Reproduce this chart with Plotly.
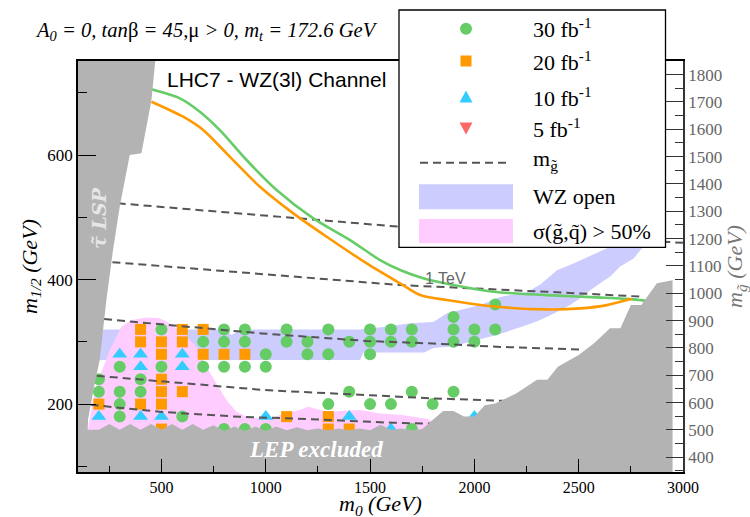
import plotly.graph_objects as go

# ---------------- data ----------------
# discovery reach markers (m0, m1/2) in GeV
green_m0 = [200, 200, 300, 300, 300, 300, 400, 400, 500, 500, 600, 700, 700,
            800, 800, 800, 800, 900, 900, 900, 900, 1000, 1000, 1000, 1100, 1100,
            1200, 1200, 1300, 1300, 1300, 1400, 1400, 1500, 1500, 1500, 1500,
            1600, 1600, 1600, 1700, 1700, 1700, 1700, 1800, 1900, 1900, 1900, 1900,
            2000, 2000, 2100, 2100]
green_m12 = [240, 220, 260, 220, 200, 180, 240, 220, 320, 260, 180, 300, 260,
             320, 300, 260, 160, 320, 300, 260, 160, 280, 260, 160, 320, 300,
             300, 280, 320, 280, 200, 300, 220, 320, 300, 280, 200,
             320, 300, 200, 320, 300, 220, 160, 200, 340, 320, 300, 220,
             320, 300, 360, 320]

orange_m0 = [200, 400, 400, 400, 500, 500, 500, 500, 500, 500, 600, 600, 600,
             700, 700, 800, 900, 1100, 1300, 1300, 1400]
orange_m12 = [200, 320, 300, 200, 300, 280, 240, 220, 200, 160, 320, 300, 220,
              320, 280, 280, 280, 180, 180, 160, 160]

blue_m0 = [200, 300, 400, 400, 400, 500, 600, 600, 1000, 1400, 1600, 2000]
blue_m12 = [180, 280, 280, 260, 180, 180, 280, 260, 180, 180, 160, 180]

red_m0 = []
red_m12 = []

# gluino-mass contours (dashed)
mg_a_m0 = [160, 492, 877, 1132, 1611, 1802]
mg_a_m12 = [199, 187.6, 179.6, 177, 170, 168.7]
mg_b_m0 = [190, 996, 1484, 1803, 2139]
mg_b_m12 = [245.5, 222.5, 214.5, 209.2, 205.3]
mg_c_m0 = [225, 980, 1484, 1803, 2124, 2507]
mg_c_m12 = [336.5, 313.5, 301.4, 297.3, 291.9, 287.7]
mg_d_m0 = [265, 1644, 2348, 2811]
mg_d_m12 = [428, 391.2, 380.4, 372.4]
mg_e_m0 = [290, 1644, 3000]
mg_e_m12 = [522.5, 484.8, 459]

# reach curves
curve_green_m0 = [452, 588, 684, 780, 908, 1052, 1228, 1404, 1548, 1644, 1755, 1899,
                  2091, 2348, 2588, 2763, 2827]
curve_green_m12 = [705.5, 691, 669.6, 640, 592, 543.9, 498.3, 463.5, 431.3, 415.3, 402,
                   391.2, 380.4, 375.1, 371.4, 368.2, 365.5]
curve_orange_m0 = [452, 604, 700, 812, 972, 1132, 1292, 1484, 1644, 1740, 1868, 2108,
                   2348, 2508, 2636, 2732, 2755]
curve_orange_m12 = [685.6, 661.5, 640.3, 602.7, 549, 506.3, 468.8, 426, 393.9, 375.1,
                    367.1, 356.3, 352.1, 353.7, 359, 367.1, 368.7]

# regions
wz_m0 = [200, 804, 836, 884, 1451, 1564, 1692, 1803, 1868, 1932, 2028, 2124, 2252,
         2316, 2396, 2475, 2603, 2667, 2732, 2850,
         2850, 2827, 2795, 2763, 2699, 2651, 2603, 2555, 2507, 2459, 2396, 2316,
         2252, 2187, 2108, 2012, 1899, 1803, 1760, 1468, 1452, 200]
wz_m12 = [320, 320, 311, 320, 320, 324, 330, 332, 346, 351, 359, 372, 380,
          392, 415, 426, 445, 455, 470, 520,
          490, 458, 447, 434, 421, 405, 394, 383, 370, 359, 348, 335,
          327, 320, 311, 303, 293, 290, 283, 283, 271, 271]

sig_m0 = [148, 148, 172, 204, 252, 308, 356, 428, 492, 540, 604, 668, 716, 764, 812,
          860, 908, 1004, 1068, 1164, 1204, 1292, 1452, 1548, 1644, 1772, 1812, 1860,
          1860]
sig_m12 = [91, 161, 206.4, 243.9, 286.7, 324.2, 335, 339.3, 337.7, 329.6, 313.6, 292,
           260, 233.3, 206.4, 187.6, 179.6, 176, 182.3, 190.4, 195.7, 187.6, 190.4, 185,
           183, 176.7, 171, 158, 91]

lsp_m0 = [90, 473, 452, 404, 348, 300, 268, 236, 204, 180, 148, 140, 90]
lsp_m12 = [760, 760, 688, 603, 600, 517, 448, 367, 271, 233, 175, 85, 85]

lep_m0 = [95, 200, 250, 300, 350, 400, 450, 500, 550, 600, 650, 700, 750, 800, 850,
          900, 950, 1000, 1050, 1100, 1150, 1200, 1250, 1300, 1350, 1400, 1450, 1500,
          1550, 1600, 1650, 1700, 1750, 1800, 1850, 1900, 1950, 2000, 2050, 2100, 2200,
          2300, 2350, 2400, 2500, 2575, 2650, 2700, 2750, 2800, 2875, 2950, 2950, 95]
lep_m12 = [159, 159, 168, 159, 168, 159, 168, 159, 168, 159, 168, 159, 166, 157, 164,
           157, 164, 157, 164, 158, 163, 158, 161, 158, 161, 158, 161, 158,
           167, 159, 161, 158, 160, 174, 189, 189, 180, 180, 198, 201, 217,
           239, 239, 260, 279, 298, 322, 322, 359, 359, 394, 399, 85, 85]

legend_labels = ["30 fb<sup>-1</sup>", "20 fb<sup>-1</sup>", "10 fb<sup>-1</sup>",
                 "5 fb<sup>-1</sup>", "m<sub>g\u0303</sub>", "WZ open",
                 "\u03c3(g\u0303,q\u0303) > 50%"]

# ---------------- style ----------------
W, H = 750, 517
ML, MR, MT, MB = 78, 67, 61, 45
PW, PH = W - ML - MR, H - MT - MB
SERIF = "Liberation Serif"
SANS = "Liberation Sans"
GREEN, ORANGE, CYAN, RED = "#66CC66", "#FF9900", "#33CCFF", "#FF6666"
GRAY = "#B3B3B3"
BAND_BLUE, BAND_PINK = "#CCCCFF", "#FFCCFF"


def px(x):
    return (x - ML) / PW


def py(y):
    return (H - MB - y) / PH


fig = go.Figure()


def region(xs, ys, color):
    fig.add_trace(go.Scatter(x=xs, y=ys, fill="toself", fillcolor=color, mode="lines",
                             line=dict(width=0), hoverinfo="skip", showlegend=False))


region(wz_m0, wz_m12, BAND_BLUE)
region(sig_m0, sig_m12, BAND_PINK)

for xs, ys, sym, col, sz in [(green_m0, green_m12, "circle", GREEN, 12),
                             (orange_m0, orange_m12, "square", ORANGE, 11),
                             (blue_m0, blue_m12, "triangle-up", CYAN, 13),
                             (red_m0, red_m12, "triangle-down", RED, 13)]:
    fig.add_trace(go.Scatter(x=xs, y=ys, mode="markers",
                             marker=dict(symbol=sym, color=col, size=sz, line=dict(width=0)),
                             showlegend=False))

for xs, ys in [(mg_a_m0, mg_a_m12), (mg_b_m0, mg_b_m12), (mg_c_m0, mg_c_m12),
               (mg_d_m0, mg_d_m12), (mg_e_m0, mg_e_m12)]:
    fig.add_trace(go.Scatter(x=xs, y=ys, mode="lines",
                             line=dict(color="#555555", width=2, dash="8px,5px"),
                             showlegend=False, hoverinfo="skip"))

for xs, ys, col in [(curve_green_m0, curve_green_m12, GREEN),
                    (curve_orange_m0, curve_orange_m12, ORANGE)]:
    fig.add_trace(go.Scatter(x=xs, y=ys, mode="lines",
                             line=dict(color=col, width=2.6, shape="spline", smoothing=0.8),
                             showlegend=False, hoverinfo="skip"))

region(lsp_m0, lsp_m12, GRAY)
region(lep_m0, lep_m12, GRAY)

# right-hand gluino-mass axis
fig.add_trace(go.Scatter(x=[None], y=[None], yaxis="y2", showlegend=False))

# ---------------- legend (drawn by hand) ----------------
shapes = [
    dict(type="rect", xref="paper", yref="paper", x0=px(399), x1=px(665.5),
         y0=py(247.3), y1=py(10), fillcolor="white", line=dict(color="black", width=1.3)),
    dict(type="circle", xref="paper", yref="paper", x0=px(460), x1=px(472),
         y0=py(34.7), y1=py(22.7), fillcolor=GREEN, line=dict(width=0)),
    dict(type="rect", xref="paper", yref="paper", x0=px(460.5), x1=px(471.5),
         y0=py(66.5), y1=py(55.5), fillcolor=ORANGE, line=dict(width=0)),
    dict(type="path", xref="paper", yref="paper",
         path=f"M {px(459.5)} {py(102.5)} L {px(472.5)} {py(102.5)} L {px(466)} {py(90.5)} Z",
         fillcolor=CYAN, line=dict(width=0)),
    dict(type="path", xref="paper", yref="paper",
         path=f"M {px(459.5)} {py(122.5)} L {px(472.5)} {py(122.5)} L {px(466)} {py(134.5)} Z",
         fillcolor=RED, line=dict(width=0)),
    dict(type="line", xref="paper", yref="paper", x0=px(420), x1=px(507),
         y0=py(162.7), y1=py(162.7), line=dict(color="#555555", width=2, dash="8px,5px")),
    dict(type="rect", xref="paper", yref="paper", x0=px(419), x1=px(513),
         y0=py(209.3), y1=py(184.3), fillcolor=BAND_BLUE, line=dict(width=0)),
    dict(type="rect", xref="paper", yref="paper", x0=px(419), x1=px(513),
         y0=py(243.3), y1=py(219), fillcolor=BAND_PINK, line=dict(width=0)),
]

annotations = []
for lab, yy in zip(legend_labels, [28.3, 61, 96.7, 128.3, 160, 196.7, 231]):
    annotations.append(dict(xref="paper", yref="paper", x=px(531), y=py(yy), text=lab,
                            showarrow=False, xanchor="left", yanchor="middle",
                            font=dict(family=SERIF, size=22, color="black")))

annotations += [
    dict(xref="paper", yref="paper", x=px(33), y=py(31), xanchor="left", yanchor="middle",
         showarrow=False,
         text="<i>A<sub>0</sub> = 0, tan</i>\u03b2<i> = 45,</i>\u03bc<i> > 0, m<sub>t</sub> = 172.6 GeV</i>",
         font=dict(family=SERIF, size=20.6, color="black")),
    dict(x=519, y=720.5, xanchor="left", yanchor="middle", showarrow=False,
         text="LHC7 - WZ(3l) Channel", font=dict(family=SANS, size=21, color="black")),
    dict(x=1860, y=401, xanchor="center", yanchor="middle", showarrow=False,
         text="1 TeV", font=dict(family=SANS, size=16, color="#666666")),
    dict(x=1240, y=127.7, xanchor="center", yanchor="middle", showarrow=False,
         text="<b><i>LEP excluded</i></b>", font=dict(family=SERIF, size=23, color="white")),
    dict(x=200, y=499, xanchor="center", yanchor="middle", showarrow=False, textangle=-90,
         text="<b><i>\u03c4\u0303 LSP</i></b>", font=dict(family="DejaVu Serif", size=19, color="#E6E6E6")),
    # x-axis title
    dict(xref="paper", yref="paper", x=0.5, y=py(505), xanchor="center", yanchor="middle",
         showarrow=False, text="<i>m<sub>0</sub> (GeV)</i>",
         font=dict(family=SERIF, size=22, color="black")),
]

tickfont = dict(family=SERIF, size=17, color="black")
fig.update_layout(
    width=W, height=H,
    margin=dict(l=ML, r=MR, t=MT, b=MB, pad=0, autoexpand=False),
    paper_bgcolor="white", plot_bgcolor="white",
    showlegend=False,
    xaxis=dict(range=[100, 3000], tick0=0, dtick=500, ticks="inside", ticklen=13,
               tickwidth=1.3, tickcolor="black", showgrid=False, zeroline=False,
               showline=True, linecolor="black", linewidth=1.5, mirror=True,
               automargin=False,
               tickfont=dict(family=SERIF, size=16, color="black"),
               minor=dict(dtick=250, tick0=0, ticks="inside", ticklen=6, tickcolor="black",
                          showgrid=False)),
    yaxis=dict(range=[91, 751], tick0=0, dtick=200, ticks="inside", ticklen=18,
               tickwidth=1.3, tickcolor="black", showgrid=False, zeroline=False,
               showline=True, linecolor="black", linewidth=1.5, tickfont=tickfont,
               automargin=False,
               minor=dict(dtick=100, tick0=0, ticks="inside", ticklen=9, tickcolor="black",
                          showgrid=False),
               title=dict(text="<i>m<sub>1/2</sub> (GeV)</i>", standoff=4,
                          font=dict(family=SERIF, size=22, color="black"))),
    yaxis2=dict(range=[346, 1850], overlaying="y", side="right", tick0=0, dtick=100,
                ticks="inside", ticklen=17, tickwidth=1.3, tickcolor="#333333",
                showgrid=False, zeroline=False, showline=True, linecolor="#333333",
                linewidth=1.5, automargin=False,
                tickfont=dict(family=SERIF, size=17, color="#666666"),
                minor=dict(dtick=50, tick0=0, ticks="inside", ticklen=8,
                           tickcolor="#333333", showgrid=False),
                title=dict(text="<i>m<sub>g\u0303</sub> (GeV)</i>", standoff=2,
                           font=dict(family=SERIF, size=22, color="#777777"))),
    shapes=shapes,
    annotations=annotations,
)

fig.write_html("out.html", config={"displayModeBar": False},
               post_script="document.body.style.margin='0';document.body.style.padding='0';")
